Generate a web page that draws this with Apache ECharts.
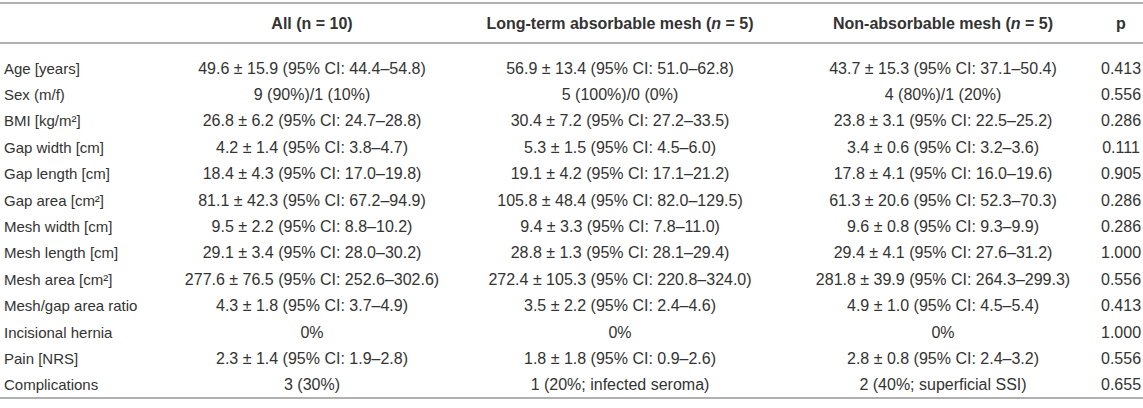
<!DOCTYPE html>
<html lang="en">
	<head>
		<meta charset="UTF-8" />
		<script src="https://cdn.jsdelivr.net/npm/echarts@6/dist/echarts.min.js"></script>
		<title>table</title>
		<style>
			* {
				padding: 0;
				margin: 0;
			}
			body {
				background: #fff;
			}
		</style>
	</head>

	<body>
		<div id="main" style="width:1143px;height:408px"></div>
		<script>
			// table content
			const headers = ["", "All (n = 10)", "Long-term absorbable mesh ({i|n} = 5)", "Non-absorbable mesh ({i|n} = 5)", "p"]
			const rowLabels = [
				"Age [years]",
				"Sex (m/f)",
				"BMI [kg/m²]",
				"Gap width [cm]",
				"Gap length [cm]",
				"Gap area [cm²]",
				"Mesh width [cm]",
				"Mesh length [cm]",
				"Mesh area [cm²]",
				"Mesh/gap area ratio",
				"Incisional hernia",
				"Pain [NRS]",
				"Complications"
			]
			const allValues = [
				"49.6 ± 15.9 (95% CI: 44.4–54.8)",
				"9 (90%)/1 (10%)",
				"26.8 ± 6.2 (95% CI: 24.7–28.8)",
				"4.2 ± 1.4 (95% CI: 3.8–4.7)",
				"18.4 ± 4.3 (95% CI: 17.0–19.8)",
				"81.1 ± 42.3 (95% CI: 67.2–94.9)",
				"9.5 ± 2.2 (95% CI: 8.8–10.2)",
				"29.1 ± 3.4 (95% CI: 28.0–30.2)",
				"277.6 ± 76.5 (95% CI: 252.6–302.6)",
				"4.3 ± 1.8 (95% CI: 3.7–4.9)",
				"0%",
				"2.3 ± 1.4 (95% CI: 1.9–2.8)",
				"3 (30%)"
			]
			const longTermValues = [
				"56.9 ± 13.4 (95% CI: 51.0–62.8)",
				"5 (100%)/0 (0%)",
				"30.4 ± 7.2 (95% CI: 27.2–33.5)",
				"5.3 ± 1.5 (95% CI: 4.5–6.0)",
				"19.1 ± 4.2 (95% CI: 17.1–21.2)",
				"105.8 ± 48.4 (95% CI: 82.0–129.5)",
				"9.4 ± 3.3 (95% CI: 7.8–11.0)",
				"28.8 ± 1.3 (95% CI: 28.1–29.4)",
				"272.4 ± 105.3 (95% CI: 220.8–324.0)",
				"3.5 ± 2.2 (95% CI: 2.4–4.6)",
				"0%",
				"1.8 ± 1.8 (95% CI: 0.9–2.6)",
				"1 (20%; infected seroma)"
			]
			const nonAbsorbableValues = [
				"43.7 ± 15.3 (95% CI: 37.1–50.4)",
				"4 (80%)/1 (20%)",
				"23.8 ± 3.1 (95% CI: 22.5–25.2)",
				"3.4 ± 0.6 (95% CI: 3.2–3.6)",
				"17.8 ± 4.1 (95% CI: 16.0–19.6)",
				"61.3 ± 20.6 (95% CI: 52.3–70.3)",
				"9.6 ± 0.8 (95% CI: 9.3–9.9)",
				"29.4 ± 4.1 (95% CI: 27.6–31.2)",
				"281.8 ± 39.9 (95% CI: 264.3–299.3)",
				"4.9 ± 1.0 (95% CI: 4.5–5.4)",
				"0%",
				"2.8 ± 0.8 (95% CI: 2.4–3.2)",
				"2 (40%; superficial SSI)"
			]
			const pValues = ["0.413", "0.556", "0.286", "0.111", "0.905", "0.286", "0.286", "1.000", "0.556", "0.413", "1.000", "0.556", "0.655"]

			// layout of the columns (x anchor on a 0..1143 axis, alignment, body font size)
			const colX = [4, 312, 620, 943, 1121]
			const colAlign = ["left", "center", "center", "center", "center"]
			const colFontSize = [15, 16, 16, 16, 16]
			const headerFontSize = 16

			const fontFamily = "'Liberation Sans', Arial, sans-serif"
			const textColor = "#333"
			const ruleColor = "#b0b0b0"

			let columnsData = [rowLabels, allValues, longTermValues, nonAbsorbableValues, pValues]
			let bodyData = []
			columnsData.forEach((col, c) => {
				col.forEach((txt, r) => {
					bodyData.push({ value: [c, r], text: txt })
				})
			})
			let headerData = headers.map((txt, c) => ({ value: [c, 0], text: txt }))

			function cellRenderer(data, bold) {
				return function(params, api) {
					let c = api.value(0)
					let r = api.value(1)
					let pt = api.coord([colX[c], r])
					let size = bold ? headerFontSize : colFontSize[c]
					return {
						type: "text",
						x: pt[0],
						y: pt[1],
						style: {
							text: data[params.dataIndex].text,
							fill: textColor,
							font: (bold ? "bold " : "") + size + "px " + fontFamily,
							align: colAlign[c],
							verticalAlign: "middle",
							rich: {
								i: { fontStyle: "italic", fontWeight: "bold", fontSize: size, fontFamily: fontFamily, fill: textColor }
							}
						}
					}
				}
			}

			const hiddenX = {
				type: "value",
				min: 0,
				max: 1143,
				axisLabel: { show: false },
				axisTick: { show: false },
				splitLine: { show: false }
			}
			const rule = { show: true, lineStyle: { color: ruleColor, width: 2 } }

			var option = {
				backgroundColor: "#ffffff",
				animation: false,
				grid: [
					{ left: 0, right: 0, top: 3, height: 40 },
					{ left: 0, right: 0, top: 55, bottom: 10 }
				],
				xAxis: [
					Object.assign({}, hiddenX, { gridIndex: 0, position: "top", axisLine: rule }),
					Object.assign({}, hiddenX, { gridIndex: 0, position: "bottom", axisLine: rule }),
					Object.assign({}, hiddenX, { gridIndex: 1, position: "bottom", axisLine: rule })
				],
				yAxis: [
					{ gridIndex: 0, type: "category", data: ["header"], show: false },
					{ gridIndex: 1, type: "category", data: rowLabels, inverse: true, show: false }
				],
				series: [
					{
						type: "custom",
						xAxisIndex: 0,
						yAxisIndex: 0,
						renderItem: cellRenderer(headerData, true),
						data: headerData
					},
					{
						type: "custom",
						xAxisIndex: 2,
						yAxisIndex: 1,
						renderItem: cellRenderer(bodyData, false),
						data: bodyData
					}
				]
			}
			var myChart = echarts.init(document.getElementById("main"), null, { renderer: "svg" })
			myChart.setOption(option)
		</script>
	</body>
</html>
